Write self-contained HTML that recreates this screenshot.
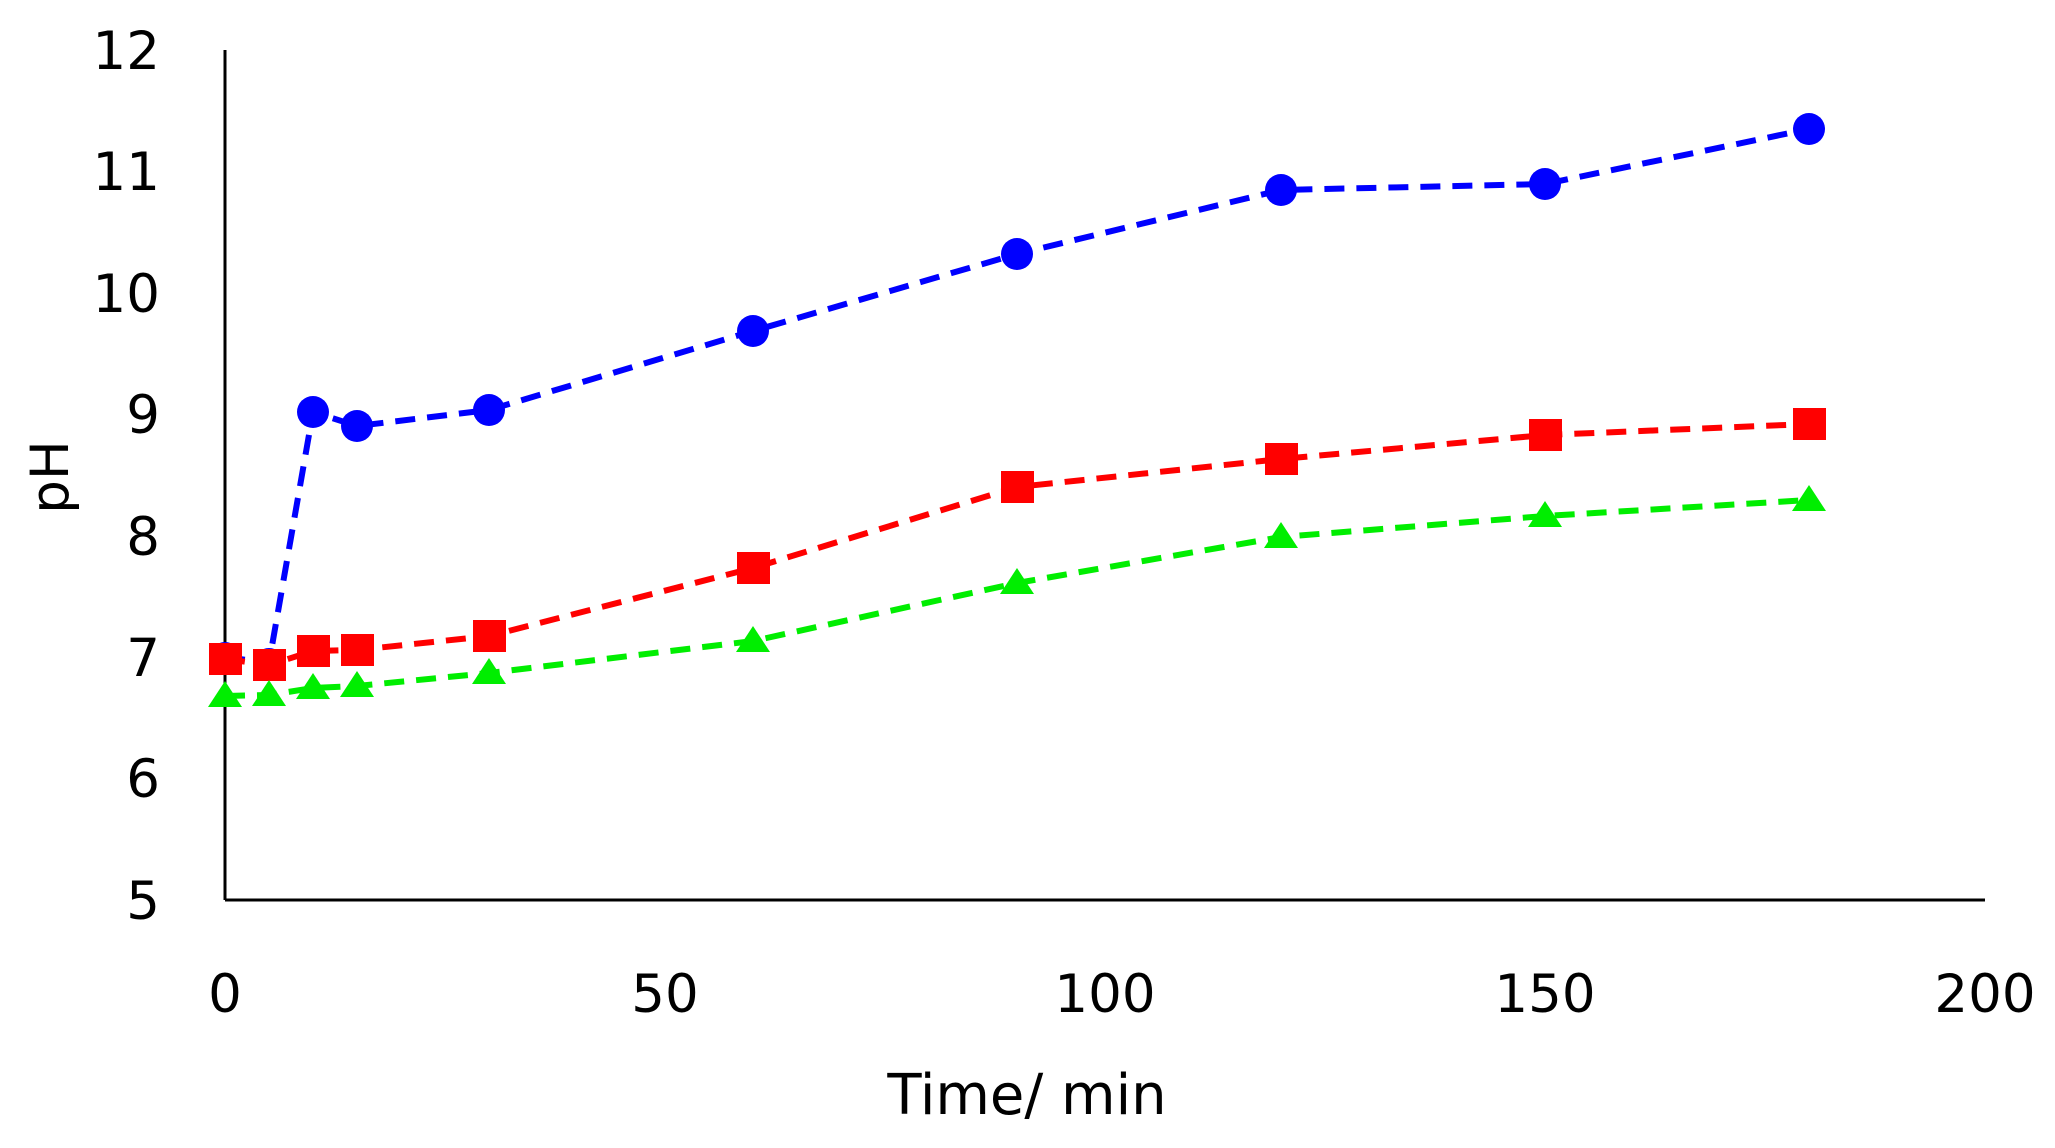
<!DOCTYPE html>
<html><head><style>body{margin:0;background:#fff}svg{display:block}</style></head><body>
<svg width="2055" height="1148" viewBox="0 0 2055 1148" xmlns="http://www.w3.org/2000/svg" font-family="DejaVu Sans, Liberation Sans, sans-serif">
<rect width="2055" height="1148" fill="#fff"/>
<g stroke="#000" stroke-width="3"><line x1="225" y1="50" x2="225" y2="900"/><line x1="225" y1="900" x2="1985" y2="900"/></g>
<g font-size="53" fill="#000" text-anchor="end">
<text x="160" y="69">12</text><text x="160" y="190">11</text><text x="160" y="312">10</text><text x="160" y="433">9</text><text x="160" y="555">8</text><text x="160" y="676">7</text><text x="160" y="797">6</text><text x="160" y="919">5</text>
</g>
<g font-size="53" fill="#000" text-anchor="middle">
<text x="225" y="1012">0</text><text x="665" y="1012">50</text><text x="1105" y="1012">100</text><text x="1545" y="1012">150</text><text x="1985" y="1012">200</text>
<text x="1027" y="1114" font-size="56">Time/ min</text>
<text transform="translate(68,477) rotate(-90)">pH</text>
</g>
<g fill="none" stroke-width="6" stroke-dasharray="20,12">
<polyline stroke="#0000ff" points="225,657 269,663 313,412 357,426 489,410 753,331 1017,254 1281,190 1545,184 1809,129"/>
<polyline stroke="#ff0000" points="225,659 269,665 313,651 357,650 489,636 753,568 1017,487 1281,459 1545,435 1809,424"/>
<polyline stroke="#00ee00" points="225,696 269,695 313,688 357,686 489,673 753,641 1017,583 1281,537 1545,516 1809,500"/>
</g>
<g fill="#0000ff">
<circle cx="225" cy="657" r="15"/><circle cx="269" cy="663" r="15"/><circle cx="313" cy="412" r="16"/><circle cx="357" cy="426" r="16"/><circle cx="489" cy="410" r="16"/><circle cx="753" cy="331" r="16"/><circle cx="1017" cy="254" r="16"/><circle cx="1281" cy="190" r="16"/><circle cx="1545" cy="184" r="16"/><circle cx="1809" cy="129" r="16"/>
</g>
<g fill="#ff0000">
<rect x="209" y="643" width="33" height="32"/><rect x="253" y="649" width="33" height="32"/><rect x="297" y="635" width="33" height="32"/><rect x="341" y="634" width="33" height="32"/><rect x="473" y="620" width="33" height="32"/><rect x="737" y="552" width="33" height="32"/><rect x="1001" y="471" width="33" height="32"/><rect x="1265" y="443" width="33" height="32"/><rect x="1529" y="419" width="33" height="32"/><rect x="1793" y="408" width="33" height="32"/>
</g>
<g fill="#00ee00">
<polygon points="225,681 242,707 208,707"/><polygon points="269,680 286,706 252,706"/><polygon points="313,673 330,699 296,699"/><polygon points="357,671 374,697 340,697"/><polygon points="489,658 506,684 472,684"/><polygon points="753,626 770,652 736,652"/><polygon points="1017,568 1034,594 1000,594"/><polygon points="1281,522 1298,548 1264,548"/><polygon points="1545,501 1562,527 1528,527"/><polygon points="1809,485 1826,511 1792,511"/>
</g>
</svg>
</body></html>
